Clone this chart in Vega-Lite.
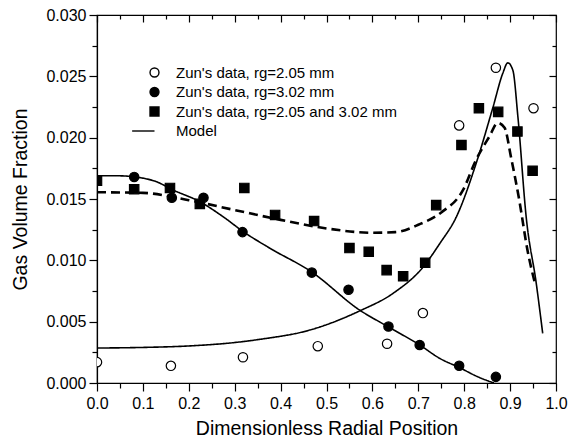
{
  "$schema": "https://vega.github.io/schema/vega-lite/v6.json",
  "autosize": {"type": "none"},
  "width": 459,
  "height": 368,
  "padding": {"left": 97, "top": 15, "right": 15, "bottom": 65},
  "background": "white",
  "config": {
    "view": {"stroke": "black", "strokeWidth": 1.2},
    "font": "Liberation Sans",
    "axis": {"domainColor": "black", "tickColor": "black", "labelColor": "black", "titleColor": "black", "grid": false, "labelFont": "Liberation Sans", "titleFont": "Liberation Sans", "titleFontWeight": "normal", "domainWidth": 1.2, "tickWidth": 1.2},
    "legend": {"labelFont": "Liberation Sans", "labelColor": "black", "labelFontSize": 15, "labelLimit": 400}
  },
  "datasets": {
    "points": [
      {"series": "Zun's data, rg=2.05 mm", "r": 0.0, "gvf": 0.0017},
      {"series": "Zun's data, rg=2.05 mm", "r": 0.161, "gvf": 0.0014},
      {"series": "Zun's data, rg=2.05 mm", "r": 0.318, "gvf": 0.0021},
      {"series": "Zun's data, rg=2.05 mm", "r": 0.481, "gvf": 0.0030},
      {"series": "Zun's data, rg=2.05 mm", "r": 0.632, "gvf": 0.0032},
      {"series": "Zun's data, rg=2.05 mm", "r": 0.710, "gvf": 0.0057},
      {"series": "Zun's data, rg=2.05 mm", "r": 0.789, "gvf": 0.0210},
      {"series": "Zun's data, rg=2.05 mm", "r": 0.869, "gvf": 0.0257},
      {"series": "Zun's data, rg=2.05 mm", "r": 0.951, "gvf": 0.0224},
      {"series": "Zun's data, rg=3.02 mm", "r": 0.081, "gvf": 0.0168},
      {"series": "Zun's data, rg=3.02 mm", "r": 0.163, "gvf": 0.0151},
      {"series": "Zun's data, rg=3.02 mm", "r": 0.232, "gvf": 0.0151},
      {"series": "Zun's data, rg=3.02 mm", "r": 0.317, "gvf": 0.0123},
      {"series": "Zun's data, rg=3.02 mm", "r": 0.468, "gvf": 0.0090},
      {"series": "Zun's data, rg=3.02 mm", "r": 0.548, "gvf": 0.0076},
      {"series": "Zun's data, rg=3.02 mm", "r": 0.635, "gvf": 0.0046},
      {"series": "Zun's data, rg=3.02 mm", "r": 0.703, "gvf": 0.0031},
      {"series": "Zun's data, rg=3.02 mm", "r": 0.789, "gvf": 0.0014},
      {"series": "Zun's data, rg=3.02 mm", "r": 0.869, "gvf": 0.0005},
      {"series": "Zun's data, rg=2.05 and 3.02 mm", "r": 0.0, "gvf": 0.0165},
      {"series": "Zun's data, rg=2.05 and 3.02 mm", "r": 0.081, "gvf": 0.0158},
      {"series": "Zun's data, rg=2.05 and 3.02 mm", "r": 0.159, "gvf": 0.0159},
      {"series": "Zun's data, rg=2.05 and 3.02 mm", "r": 0.224, "gvf": 0.0146},
      {"series": "Zun's data, rg=2.05 and 3.02 mm", "r": 0.321, "gvf": 0.0159},
      {"series": "Zun's data, rg=2.05 and 3.02 mm", "r": 0.388, "gvf": 0.0137},
      {"series": "Zun's data, rg=2.05 and 3.02 mm", "r": 0.473, "gvf": 0.0132},
      {"series": "Zun's data, rg=2.05 and 3.02 mm", "r": 0.550, "gvf": 0.0110},
      {"series": "Zun's data, rg=2.05 and 3.02 mm", "r": 0.592, "gvf": 0.0107},
      {"series": "Zun's data, rg=2.05 and 3.02 mm", "r": 0.631, "gvf": 0.0092},
      {"series": "Zun's data, rg=2.05 and 3.02 mm", "r": 0.667, "gvf": 0.0087},
      {"series": "Zun's data, rg=2.05 and 3.02 mm", "r": 0.715, "gvf": 0.0098},
      {"series": "Zun's data, rg=2.05 and 3.02 mm", "r": 0.739, "gvf": 0.0145},
      {"series": "Zun's data, rg=2.05 and 3.02 mm", "r": 0.794, "gvf": 0.0194},
      {"series": "Zun's data, rg=2.05 and 3.02 mm", "r": 0.832, "gvf": 0.0224},
      {"series": "Zun's data, rg=2.05 and 3.02 mm", "r": 0.874, "gvf": 0.0221},
      {"series": "Zun's data, rg=2.05 and 3.02 mm", "r": 0.916, "gvf": 0.0205},
      {"series": "Zun's data, rg=2.05 and 3.02 mm", "r": 0.949, "gvf": 0.0173}
    ],
    "lines": [
      {"curve": "A", "style": "solid", "r": 0.0, "gvf": 0.0169},
      {"curve": "A", "style": "solid", "r": 0.05, "gvf": 0.01689},
      {"curve": "A", "style": "solid", "r": 0.08, "gvf": 0.01681},
      {"curve": "A", "style": "solid", "r": 0.13, "gvf": 0.0164},
      {"curve": "A", "style": "solid", "r": 0.166, "gvf": 0.01573},
      {"curve": "A", "style": "solid", "r": 0.224, "gvf": 0.01478},
      {"curve": "A", "style": "solid", "r": 0.275, "gvf": 0.01355},
      {"curve": "A", "style": "solid", "r": 0.319, "gvf": 0.01233},
      {"curve": "A", "style": "solid", "r": 0.377, "gvf": 0.01098},
      {"curve": "A", "style": "solid", "r": 0.467, "gvf": 0.00907},
      {"curve": "A", "style": "solid", "r": 0.572, "gvf": 0.00595},
      {"curve": "A", "style": "solid", "r": 0.634, "gvf": 0.00459},
      {"curve": "A", "style": "solid", "r": 0.703, "gvf": 0.0031},
      {"curve": "A", "style": "solid", "r": 0.747, "gvf": 0.002},
      {"curve": "A", "style": "solid", "r": 0.79, "gvf": 0.00125},
      {"curve": "A", "style": "solid", "r": 0.83, "gvf": 0.0005},
      {"curve": "A", "style": "solid", "r": 0.865, "gvf": 0.0},
      {"curve": "B", "style": "solid", "r": 0.0, "gvf": 0.00285},
      {"curve": "B", "style": "solid", "r": 0.1, "gvf": 0.0029},
      {"curve": "B", "style": "solid", "r": 0.2, "gvf": 0.00302},
      {"curve": "B", "style": "solid", "r": 0.3, "gvf": 0.0033},
      {"curve": "B", "style": "solid", "r": 0.355, "gvf": 0.00356},
      {"curve": "B", "style": "solid", "r": 0.464, "gvf": 0.00432},
      {"curve": "B", "style": "solid", "r": 0.573, "gvf": 0.00589},
      {"curve": "B", "style": "solid", "r": 0.645, "gvf": 0.00731},
      {"curve": "B", "style": "solid", "r": 0.711, "gvf": 0.00948},
      {"curve": "B", "style": "solid", "r": 0.747, "gvf": 0.01138},
      {"curve": "B", "style": "solid", "r": 0.783, "gvf": 0.01355},
      {"curve": "B", "style": "solid", "r": 0.826, "gvf": 0.0179},
      {"curve": "B", "style": "solid", "r": 0.863, "gvf": 0.02252},
      {"curve": "B", "style": "solid", "r": 0.884, "gvf": 0.02524},
      {"curve": "B", "style": "solid", "r": 0.895, "gvf": 0.0261},
      {"curve": "B", "style": "solid", "r": 0.906, "gvf": 0.0255},
      {"curve": "B", "style": "solid", "r": 0.917, "gvf": 0.0217},
      {"curve": "B", "style": "solid", "r": 0.935, "gvf": 0.01355},
      {"curve": "B", "style": "solid", "r": 0.957, "gvf": 0.00812},
      {"curve": "B", "style": "solid", "r": 0.971, "gvf": 0.00405},
      {"curve": "C", "style": "dashed", "r": 0.0, "gvf": 0.01555},
      {"curve": "C", "style": "dashed", "r": 0.1, "gvf": 0.0155},
      {"curve": "C", "style": "dashed", "r": 0.2, "gvf": 0.0149},
      {"curve": "C", "style": "dashed", "r": 0.3, "gvf": 0.0141},
      {"curve": "C", "style": "dashed", "r": 0.4, "gvf": 0.0133},
      {"curve": "C", "style": "dashed", "r": 0.5, "gvf": 0.0126},
      {"curve": "C", "style": "dashed", "r": 0.6, "gvf": 0.01225},
      {"curve": "C", "style": "dashed", "r": 0.65, "gvf": 0.0123},
      {"curve": "C", "style": "dashed", "r": 0.7, "gvf": 0.0129},
      {"curve": "C", "style": "dashed", "r": 0.75, "gvf": 0.0139},
      {"curve": "C", "style": "dashed", "r": 0.797, "gvf": 0.0157},
      {"curve": "C", "style": "dashed", "r": 0.826, "gvf": 0.0182},
      {"curve": "C", "style": "dashed", "r": 0.855, "gvf": 0.0201},
      {"curve": "C", "style": "dashed", "r": 0.873, "gvf": 0.0212},
      {"curve": "C", "style": "dashed", "r": 0.888, "gvf": 0.0208},
      {"curve": "C", "style": "dashed", "r": 0.902, "gvf": 0.0184},
      {"curve": "C", "style": "dashed", "r": 0.92, "gvf": 0.0149},
      {"curve": "C", "style": "dashed", "r": 0.938, "gvf": 0.0108},
      {"curve": "C", "style": "dashed", "r": 0.955, "gvf": 0.0080}
    ]
  },
  "layer": [
    {
      "data": {"name": "lines"},
      "mark": {"type": "line", "interpolate": "monotone", "color": "black", "clip": true},
      "encoding": {
        "x": {"field": "r", "type": "quantitative", "scale": {"domain": [0, 1], "nice": false, "zero": false},
          "axis": {"orient": "bottom", "title": "Dimensionless Radial Position", "values": [0, 0.1, 0.2, 0.3, 0.4, 0.5, 0.6, 0.7, 0.8, 0.9, 1.0], "format": ".1f", "labelFontSize": 16, "titleFontSize": 19.5, "tickSize": 8, "tickColor": "black", "labelPadding": 4, "titlePadding": 8, "labelFlush": false}},
        "y": {"field": "gvf", "type": "quantitative", "scale": {"domain": [0, 0.03], "nice": false, "zero": false},
          "axis": {"orient": "left", "title": "Gas Volume Fraction", "values": [0, 0.005, 0.01, 0.015, 0.02, 0.025, 0.03], "format": ".3f", "labelFontSize": 16, "titleFontSize": 19.5, "tickSize": 8, "tickColor": "black", "labelPadding": 3, "titlePadding": 15, "labelFlush": false}},
        "detail": {"field": "curve"},
        "strokeDash": {"field": "style", "type": "nominal", "scale": {"domain": ["solid", "dashed"], "range": [[1, 0], [9, 5]]}, "legend": null},
        "strokeWidth": {"field": "style", "type": "nominal", "scale": {"domain": ["solid", "dashed"], "range": [1.6, 2.6]}, "legend": null}
      }
    },
    {
      "data": {"name": "points"},
      "mark": {"type": "point", "filled": false, "strokeWidth": 1.2, "opacity": 1, "clip": true, "size": 88},
      "encoding": {
        "x": {"field": "r", "type": "quantitative", "scale": {"domain": [0, 1], "nice": false, "zero": false},
          "axis": {"orient": "top", "title": null, "labels": false, "values": [0, 0.1, 0.2, 0.3, 0.4, 0.5, 0.6, 0.7, 0.8, 0.9, 1.0], "tickSize": 7, "offset": -7, "tickColor": "black", "tickWidth": 1.2, "domain": true, "domainColor": "transparent"}},
        "y": {"field": "gvf", "type": "quantitative", "scale": {"domain": [0, 0.03], "nice": false, "zero": false},
          "axis": {"orient": "right", "title": null, "labels": false, "values": [0, 0.005, 0.01, 0.015, 0.02, 0.025, 0.03], "tickSize": 7, "offset": -7, "tickColor": "black", "tickWidth": 1.2, "domain": true, "domainColor": "transparent"}},
        "shape": {"field": "series", "type": "nominal",
          "scale": {"domain": ["Zun's data, rg=2.05 mm", "Zun's data, rg=3.02 mm", "Zun's data, rg=2.05 and 3.02 mm", "Model"], "range": ["circle", "circle", "square", "M-5,0H0"]},
          "legend": {"title": null, "orient": "none", "legendX": 50, "legendY": 50, "padding": 0, "rowPadding": 3.5, "labelOffset": 14, "symbolSize": 80, "symbolStrokeWidth": 1.4, "symbolOpacity": 1}},
        "fill": {"field": "series", "type": "nominal",
          "scale": {"domain": ["Zun's data, rg=2.05 mm", "Zun's data, rg=3.02 mm", "Zun's data, rg=2.05 and 3.02 mm", "Model"], "range": ["white", "black", "black", "transparent"]},
          "legend": {"title": null, "orient": "none", "legendX": 50, "legendY": 50, "padding": 0, "rowPadding": 3.5, "labelOffset": 14, "symbolSize": 80, "symbolStrokeWidth": 1.4, "symbolOpacity": 1}},
        "stroke": {"field": "series", "type": "nominal",
          "scale": {"domain": ["Zun's data, rg=2.05 mm", "Zun's data, rg=3.02 mm", "Zun's data, rg=2.05 and 3.02 mm", "Model"], "range": ["black", "black", "black", "black"]},
          "legend": {"title": null, "orient": "none", "legendX": 50, "legendY": 50, "padding": 0, "rowPadding": 3.5, "labelOffset": 14, "symbolSize": 80, "symbolStrokeWidth": 1.4, "symbolOpacity": 1}}
      }
    },
    {
      "data": {"name": "points"},
      "mark": {"type": "point", "opacity": 0},
      "encoding": {
        "x": {"field": "r", "type": "quantitative", "scale": {"domain": [0, 1], "nice": false, "zero": false},
          "axis": {"orient": "bottom", "title": null, "labels": false, "domain": true, "domainColor": "transparent", "values": [0.05, 0.15, 0.25, 0.35, 0.45, 0.55, 0.65, 0.75, 0.85, 0.95], "tickSize": 5, "tickColor": "black", "tickWidth": 1.2}},
        "y": {"field": "gvf", "type": "quantitative", "scale": {"domain": [0, 0.03], "nice": false, "zero": false},
          "axis": {"orient": "left", "title": null, "labels": false, "domain": true, "domainColor": "transparent", "values": [0.0025, 0.0075, 0.0125, 0.0175, 0.0225, 0.0275], "tickSize": 5, "tickColor": "black", "tickWidth": 1.2}}
      }
    },
    {
      "data": {"name": "points"},
      "mark": {"type": "point", "opacity": 0},
      "encoding": {
        "x": {"field": "r", "type": "quantitative", "scale": {"domain": [0, 1], "nice": false, "zero": false},
          "axis": {"orient": "top", "title": null, "labels": false, "domain": true, "domainColor": "transparent", "values": [0.05, 0.15, 0.25, 0.35, 0.45, 0.55, 0.65, 0.75, 0.85, 0.95], "tickSize": 4, "offset": -4, "tickColor": "black", "tickWidth": 1.2}},
        "y": {"field": "gvf", "type": "quantitative", "scale": {"domain": [0, 0.03], "nice": false, "zero": false},
          "axis": {"orient": "right", "title": null, "labels": false, "domain": true, "domainColor": "transparent", "values": [0.0025, 0.0075, 0.0125, 0.0175, 0.0225, 0.0275], "tickSize": 4, "offset": -4, "tickColor": "black", "tickWidth": 1.2}}
      }
    }
  ],
  "resolve": {"scale": {"x": "independent", "y": "independent"}, "axis": {"x": "independent", "y": "independent"}}
}
